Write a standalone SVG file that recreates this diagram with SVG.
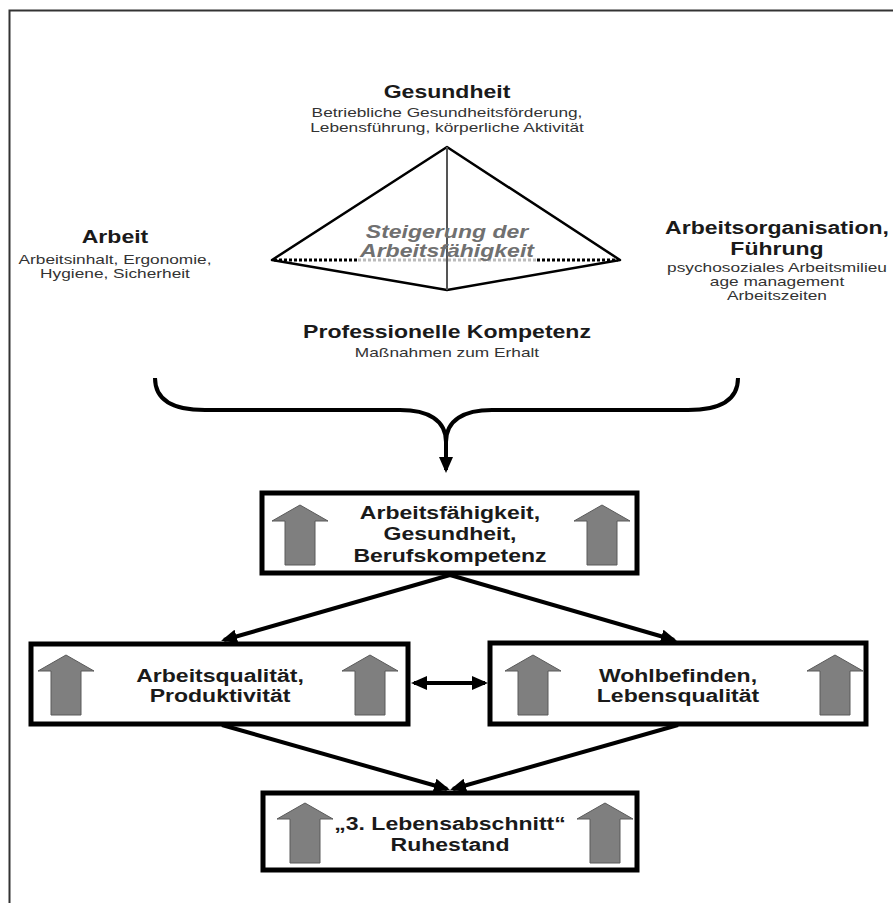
<svg xmlns="http://www.w3.org/2000/svg" xmlns:xlink="http://www.w3.org/1999/xlink" width="893" height="903" viewBox="0 0 893 903">
<style>
text{font-family:"Liberation Sans",Arial,sans-serif;text-anchor:middle}
.t{font-weight:bold;font-size:18px;fill:#1a1a1a}
.s{font-size:13.5px;fill:#333}
.st{font-weight:bold;font-style:italic;font-size:18px;fill:#707070}
.box{fill:#fff;stroke:#000;stroke-width:5}
.con{stroke:#000;stroke-width:4;fill:none}
.icon{fill:#7f7f7f;stroke:#5a5a5a;stroke-width:1}
</style>
<defs>
<path id="up" d="M28,0 L56,16 L43,16 L43,60 L13,60 L13,16 L0,16 Z"/>
<marker id="ah" viewBox="0 0 16 14" refX="13" refY="7" markerWidth="16" markerHeight="14" orient="auto-start-reverse" markerUnits="userSpaceOnUse"><path d="M0,0 L16,7 L0,14 Z" fill="#000"/></marker>
</defs>
<rect width="893" height="903" fill="#fff"/>
<g id="frame"><path d="M9.5,903 V10.5 H893" fill="none" stroke="#333" stroke-width="2"/></g>

<g id="pyramid">
<polygon points="272,260 447,147 620,260 447,290" fill="none" stroke="#000" stroke-width="2.5" stroke-linejoin="round"/>
<line x1="447" y1="147" x2="447" y2="290" stroke="#555" stroke-width="2"/>
<line x1="274" y1="260" x2="358" y2="260" stroke="#000" stroke-width="3" stroke-dasharray="3,2"/>
<line x1="358" y1="260" x2="537" y2="260" stroke="#bbb" stroke-width="3" stroke-dasharray="3,2"/>
<line x1="537" y1="260" x2="618" y2="260" stroke="#000" stroke-width="3" stroke-dasharray="3,2"/>
<text class="st" transform="matrix(1.28 0 0 1 447 0)" x="0" y="238">Steigerung der</text>
<text class="st" transform="matrix(1.28 0 0 1 447 0)" x="0" y="257">Arbeitsfähigkeit</text>
</g>

<g id="gesundheit">
<text class="t" transform="matrix(1.28 0 0 1 447 0)" x="0" y="98">Gesundheit</text>
<text class="s" transform="matrix(1.28 0 0 1 447 0)" x="0" y="117">Betriebliche Gesundheitsförderung,</text>
<text class="s" transform="matrix(1.28 0 0 1 447 0)" x="0" y="132">Lebensführung, körperliche Aktivität</text>
</g>

<g id="arbeit">
<text class="t" transform="matrix(1.28 0 0 1 115 0)" x="0" y="243">Arbeit</text>
<text class="s" transform="matrix(1.28 0 0 1 115 0)" x="0" y="264">Arbeitsinhalt, Ergonomie,</text>
<text class="s" transform="matrix(1.28 0 0 1 115 0)" x="0" y="278">Hygiene, Sicherheit</text>
</g>

<g id="organisation">
<text class="t" transform="matrix(1.28 0 0 1 777 0)" x="0" y="234">Arbeitsorganisation,</text>
<text class="t" transform="matrix(1.28 0 0 1 777 0)" x="0" y="255">Führung</text>
<text class="s" transform="matrix(1.28 0 0 1 777 0)" x="0" y="272">psychosoziales Arbeitsmilieu</text>
<text class="s" transform="matrix(1.28 0 0 1 777 0)" x="0" y="286">age management</text>
<text class="s" transform="matrix(1.28 0 0 1 777 0)" x="0" y="300">Arbeitszeiten</text>
</g>

<g id="kompetenz">
<text class="t" transform="matrix(1.28 0 0 1 447 0)" x="0" y="338">Professionelle Kompetenz</text>
<text class="s" transform="matrix(1.28 0 0 1 447 0)" x="0" y="357">Maßnahmen zum Erhalt</text>
</g>

<g id="box-top">
<rect class="box" x="262" y="493" width="375" height="80"/>
<use href="#up" class="icon" x="272" y="505"/>
<use href="#up" class="icon" x="574" y="505"/>
<text class="t" transform="matrix(1.28 0 0 1 450 0)" x="0" y="519">Arbeitsfähigkeit,</text>
<text class="t" transform="matrix(1.28 0 0 1 450 0)" x="0" y="540">Gesundheit,</text>
<text class="t" transform="matrix(1.28 0 0 1 450 0)" x="0" y="562">Berufskompetenz</text>
</g>

<g id="box-left">
<rect class="box" x="31" y="644" width="377" height="80"/>
<use href="#up" class="icon" x="38" y="655"/>
<use href="#up" class="icon" x="342" y="655"/>
<text class="t" transform="matrix(1.28 0 0 1 220 0)" x="0" y="682">Arbeitsqualität,</text>
<text class="t" transform="matrix(1.28 0 0 1 220 0)" x="0" y="702">Produktivität</text>
</g>

<g id="box-right">
<rect class="box" x="490" y="643" width="376" height="81"/>
<use href="#up" class="icon" x="505" y="655"/>
<use href="#up" class="icon" x="807" y="655"/>
<text class="t" transform="matrix(1.28 0 0 1 678 0)" x="0" y="682">Wohlbefinden,</text>
<text class="t" transform="matrix(1.28 0 0 1 678 0)" x="0" y="702">Lebensqualität</text>
</g>

<g id="box-bottom">
<rect class="box" x="263" y="793" width="374" height="77"/>
<use href="#up" class="icon" x="277" y="803"/>
<use href="#up" class="icon" x="577" y="803"/>
<text class="t" transform="matrix(1.28 0 0 1 450 0)" x="0" y="830">„3. Lebensabschnitt“</text>
<text class="t" transform="matrix(1.28 0 0 1 450 0)" x="0" y="851">Ruhestand</text>
</g>

<g id="connectors">
<path class="con" d="M155,378 C155,400 172,410 205,410 L400,410 C428,410 446,420 446,442 M738,378 C738,400 721,410 688,410 L492,410 C464,410 446,420 446,442"/>
<line class="con" x1="446" y1="440" x2="446" y2="470" marker-end="url(#ah)"/>
<line class="con" x1="450" y1="575" x2="224" y2="640" marker-end="url(#ah)"/>
<line class="con" x1="450" y1="575" x2="674" y2="640" marker-end="url(#ah)"/>
<line class="con" x1="222" y1="725" x2="447" y2="789" marker-end="url(#ah)"/>
<line class="con" x1="678" y1="725" x2="453" y2="789" marker-end="url(#ah)"/>
<line class="con" x1="414" y1="683" x2="485" y2="683" marker-start="url(#ah)" marker-end="url(#ah)"/>
</g>
</svg>
